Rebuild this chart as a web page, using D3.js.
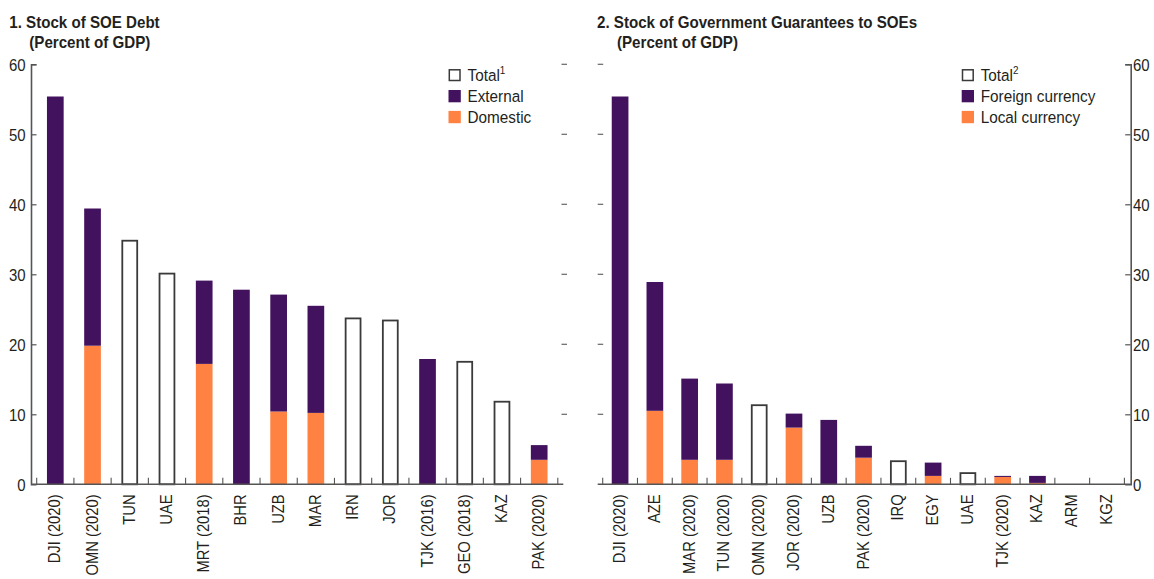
<!DOCTYPE html>
<html><head><meta charset="utf-8">
<script src="https://cdn.jsdelivr.net/npm/d3@7"></script>
<style>
body{margin:0;background:#fff;}
text{font-family:"Liberation Sans",Arial,sans-serif;fill:#231f20;}
</style></head>
<body><svg id="c" width="1154" height="579"></svg>
<script>
// ---- Data ----
const leftCategories = ["DJI (2020)","OMN (2020)","TUN","UAE","MRT (2018)","BHR","UZB","MAR","IRN","JOR","TJK (2016)","GEO (2018)","KAZ","PAK (2020)"];
const leftTotalOnly  = [null,null,34.8,30.1,null,null,null,null,23.7,23.4,null,17.5,11.8,null];
const leftExternal   = [55.4,19.6,null,null,11.9,27.8,16.7,15.3,null,null,17.9,null,null,2.1];
const leftDomestic   = [0,19.8,null,null,17.2,0,10.4,10.2,null,null,0,null,null,3.5];

const rightCategories = ["DJI (2020)","AZE","MAR (2020)","TUN (2020)","OMN (2020)","JOR (2020)","UZB","PAK (2020)","IRQ","EGY","UAE","TJK (2020)","KAZ","ARM","KGZ"];
const rightTotalOnly  = [null,null,null,null,11.3,null,null,null,3.3,null,1.6,null,null,null,null];
const rightForeign    = [55.4,18.4,11.6,10.9,null,2.0,9.2,1.7,null,1.9,null,0.15,1.0,0,0];
const rightLocal      = [0,10.5,3.5,3.5,null,8.1,0,3.8,null,1.2,null,1.05,0.2,0,0];

const yTicks = [0,10,20,30,40,50,60];

const PURPLE = "#43125f", ORANGE = "#ff8243";
const svg = d3.select("#c");

// condensed text helper (horizontal squeeze to mimic a condensed face)
function ctext(g, x, y, str, size, sx, weight){
  return g.append("text").attr("transform",`translate(${x},${y}) scale(${sx},1)`)
    .attr("font-size",size).attr("font-weight",weight||"normal").text(str);
}

function panel(o){
  const g = svg.append("g");
  const y = d3.scaleLinear().domain([0,60]).range([484.3,64.3]);
  const x = d3.scaleBand().domain(o.cats).range(o.band).padding(0);
  const bw = 16.7;
  const cx = c => x(c) + x.bandwidth()/2;

  // titles
  ctext(g, o.titleX, 27.7, o.title, 17, 0.89, "bold");
  ctext(g, o.titleX+20, 47.7, "(Percent of GDP)", 17, 0.89, "bold");

  // bars
  o.cats.forEach((c,i)=>{
    const lo = o.lower[i], up = o.upper[i], tot = o.total[i];
    if (tot != null){
      g.append("rect").attr("x",cx(c)-bw/2+0.9).attr("width",bw-1.8)
        .attr("y",y(tot)).attr("height",y(0)-y(tot))
        .attr("fill","#fff").attr("stroke","#3a3a3a").attr("stroke-width",1.8);
    } else {
      if (lo>0) g.append("rect").attr("x",cx(c)-bw/2).attr("width",bw)
        .attr("y",y(lo)).attr("height",y(0)-y(lo)).attr("fill",ORANGE);
      if (up>0) g.append("rect").attr("x",cx(c)-bw/2).attr("width",bw)
        .attr("y",y(lo+up)).attr("height",y(lo)-y(lo+up)).attr("fill",PURPLE);
    }
  });

  // baseline
  g.append("line").attr("x1",o.base[0]).attr("x2",o.base[1]).attr("y1",y(0)).attr("y2",y(0))
    .attr("stroke","#555").attr("stroke-width",1.6);
  // category separators
  const seps = o.cats.map(c=>x(c)).concat([o.band[1]]);
  g.selectAll(".sep").data(seps).enter().append("line")
    .attr("x1",d=>d).attr("x2",d=>d).attr("y1",y(0)).attr("y2",y(0)-6.5)
    .attr("stroke","#555").attr("stroke-width",1.1);

  // main axis
  const axis = o.axisSide==="left" ? d3.axisLeft(y) : d3.axisRight(y);
  const ag = g.append("g").attr("transform",`translate(${o.axisX},0)`)
    .call(axis.tickValues(yTicks).tickSize(-5.5).tickPadding(0).tickFormat(d3.format("d")));
  ag.select(".domain").attr("stroke","#555").attr("stroke-width",1.6);
  ag.selectAll(".tick line").attr("stroke","#555").attr("stroke-width",1.2);
  ag.selectAll(".tick text")
    .attr("x",null).attr("dy",null)
    .attr("transform",`translate(${o.axisSide==="left"?-o.tickPad:o.tickPad},5.8) scale(0.92,1)`)
    .attr("font-size",16.3).attr("fill","#231f20")
    .attr("font-family","'Liberation Sans',Arial,sans-serif");
  ag.selectAll(".tick").filter(d=>d===0).select("line").remove();

  // mirror dashes
  g.selectAll(".dash").data(yTicks.filter(d=>d>0)).enter().append("line")
    .attr("x1",o.dashX).attr("x2",o.dashX+5.5).attr("y1",d=>y(d)).attr("y2",d=>y(d))
    .attr("stroke","#666").attr("stroke-width",1.2);

  // x labels
  g.selectAll(".xl").data(o.cats).enter().append("text")
    .attr("transform",c=>`translate(${cx(c)+5},${y(0)+10}) rotate(-90) scale(0.87,1)`)
    .attr("text-anchor","end").attr("font-size",17).text(c=>c);

  // legend
  const L = g.append("g").attr("transform",`translate(${o.legX},0)`);
  o.leg.forEach((d,i)=>{
    const yb = 81.3 + i*20.9;
    if (d.fill==="none"){
      L.append("rect").attr("x",0.8).attr("y",yb-11.5).attr("width",10.7).attr("height",10.7)
        .attr("fill","#fff").attr("stroke","#3a3a3a").attr("stroke-width",1.5);
    } else {
      L.append("rect").attr("x",0).attr("y",yb-12.2).attr("width",12.3).attr("height",12.3).attr("fill",d.fill);
    }
    const t = ctext(L, 19, yb, d.label, 17, 0.9);
    if (d.sup) t.append("tspan").attr("font-size",11).attr("dy",-7.5).text(d.sup);
  });
}

panel({
  title:"1. Stock of SOE Debt", titleX:9.3,
  cats:leftCategories, total:leftTotalOnly, upper:leftExternal, lower:leftDomestic,
  band:[36.7,557.8], base:[31,563.3], axisX:31, axisSide:"left", dashX:561.5, tickPad:5.3,
  legX:448.5,
  leg:[{label:"Total",sup:"1",fill:"none"},{label:"External",fill:PURPLE},{label:"Domestic",fill:ORANGE}]
});
panel({
  title:"2. Stock of Government Guarantees to SOEs", titleX:597,
  cats:rightCategories, total:rightTotalOnly, upper:rightForeign, lower:rightLocal,
  band:[602.7,1124.4], base:[597.7,1130.7], axisX:1130.7, axisSide:"right", dashX:597.7, tickPad:2.3,
  legX:961.7,
  leg:[{label:"Total",sup:"2",fill:"none"},{label:"Foreign currency",fill:PURPLE},{label:"Local currency",fill:ORANGE}]
});
</script></body></html>
